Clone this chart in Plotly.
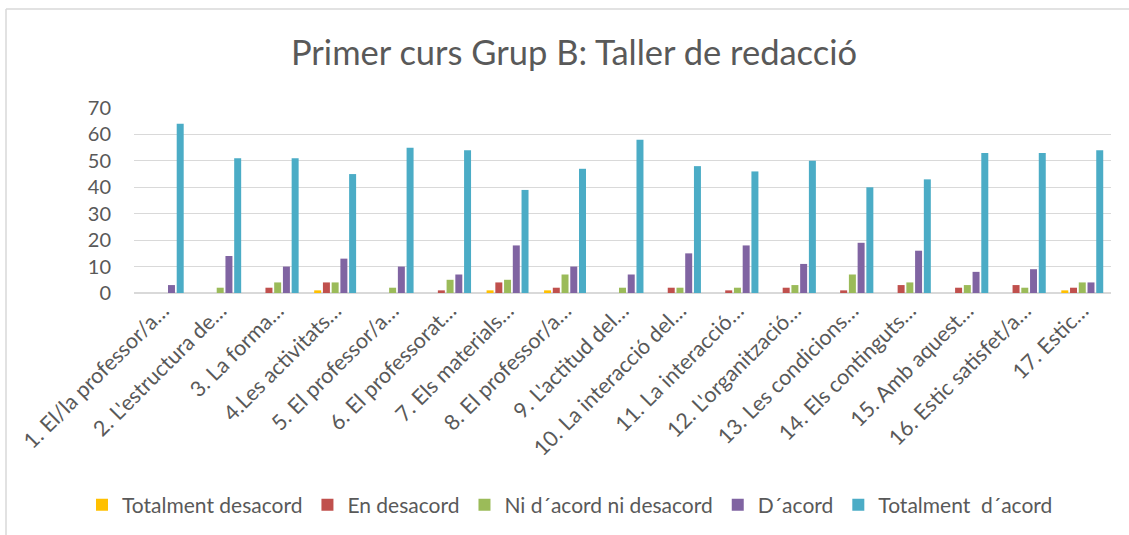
import plotly.graph_objects as go

categories = [
    "1. El/la professor/a…", "2. L'estructura de…", "3. La forma…", "4.Les activitats…",
    "5. El professor/a…", "6. El professorat…", "7. Els materials…", "8. El professor/a…",
    "9. L'actitud del…", "10. La interacció del…", "11. La interacció…", "12. L'organització…",
    "13. Les condicions…", "14. Els continguts…", "15. Amb aquest…", "16. Estic satisfet/a…",
    "17. Estic…",
]
totalment_desacord = [0, 0, 0, 1, 0, 0, 1, 1, 0, 0, 0, 0, 0, 0, 0, 0, 1]
en_desacord = [0, 0, 2, 4, 0, 1, 4, 2, 0, 2, 1, 2, 1, 3, 2, 3, 2]
ni_acord = [0, 2, 4, 4, 2, 5, 5, 7, 2, 2, 2, 3, 7, 4, 3, 2, 4]
d_acord = [3, 14, 10, 13, 10, 7, 18, 10, 7, 15, 18, 11, 19, 16, 8, 9, 4]
totalment_acord = [64, 51, 51, 45, 55, 54, 39, 47, 58, 48, 46, 50, 40, 43, 53, 53, 54]

series_names = ["Totalment desacord", "En desacord", "Ni d´acord ni desacord", "D´acord", "Totalment  d´acord"]
series_values = [totalment_desacord, en_desacord, ni_acord, d_acord, totalment_acord]
colors = ["#FFC000", "#C0504D", "#9BBB59", "#8064A2", "#4BACC6"]

fig = go.Figure()
for name, vals, col in zip(series_names, series_values, colors):
    fig.add_trace(go.Bar(name=name, x=categories, y=vals, marker=dict(color=col, line=dict(width=0))))

font_family = "Lato, 'Open Sans', sans-serif"
fig.update_layout(
    width=1129, height=535,
    paper_bgcolor="white", plot_bgcolor="white",
    margin=dict(l=134, r=18, t=108, b=242, autoexpand=False),
    barmode="group", bargap=0.24, bargroupgap=0.2,
    font=dict(family=font_family, color="#595959", size=18),
    title=dict(text="Primer curs Grup B: Taller de redacció", x=(574 - 134) / 977, xref="paper", xanchor="center",
               y=1 - 53 / 535, yanchor="middle", font=dict(size=34.5, color="#595959")),
    legend=dict(orientation="h", x=(570 - 134) / 977, xanchor="center", y=(293 - 505) / 185, yanchor="middle",
                font=dict(size=21, color="#595959"), traceorder="normal",
                itemwidth=30),
    showlegend=True,
)
fig.update_yaxes(range=[0, 70], dtick=10, showgrid=True, gridcolor="#D9D9D9", gridwidth=1,
                 zeroline=True, zerolinecolor="#D9D9D9", zerolinewidth=1.5,
                 showline=False, ticks="", tickfont=dict(size=20, color="#595959"), ticklabelstandoff=22)
fig.update_xaxes(tickangle=-45, showline=False, ticks="", tickfont=dict(size=21.5, color="#595959"))

# outer chart border (top and left visible)
fig.add_shape(type="line", xref="paper", yref="paper", x0=(6 - 134) / 977, x1=1.03,
              y0=(293 - 9) / 185, y1=(293 - 9) / 185, line=dict(color="#D9D9D9", width=1.5))
fig.add_shape(type="line", xref="paper", yref="paper", x0=(6 - 134) / 977, x1=(6 - 134) / 977,
              y0=(293 - 9) / 185, y1=-1.5, line=dict(color="#D9D9D9", width=1.5))

fig.write_html("out.html", config={"displayModeBar": False})

# remove the browser's default body margin so the figure sits at the page origin
with open("out.html", encoding="utf-8") as f:
    html = f.read()
html = html.replace("<head>", "<head><style>html,body{margin:0;padding:0;overflow:hidden;}</style>", 1)
with open("out.html", "w", encoding="utf-8") as f:
    f.write(html)
